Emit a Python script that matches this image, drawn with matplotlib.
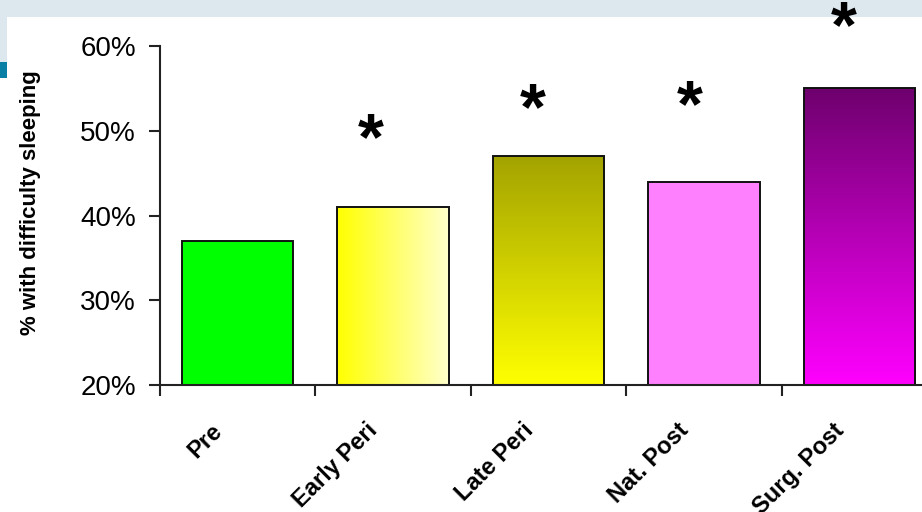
import numpy as np
import matplotlib
matplotlib.use("Agg")
import matplotlib.pyplot as plt
from matplotlib.colors import LinearSegmentedColormap
from matplotlib.patches import Rectangle
from matplotlib.transforms import ScaledTranslation, blended_transform_factory

categories = ["Pre", "Early Peri", "Late Peri", "Nat. Post", "Surg. Post"]
values = [37, 41, 47, 44, 55]
star_levels = [None, 48.7, 52.2, 52.6, 61.9]
yticks = [20, 30, 40, 50, 60]
ytick_labels = ["20%", "30%", "40%", "50%", "60%"]

plt.rcParams['font.family'] = ['Liberation Sans', 'DejaVu Sans']

W, H = 922, 512
fig = plt.figure(figsize=(W / 100, H / 100), dpi=100)
fig.patch.set_facecolor("white")

# decorative slide bands
band = "#dce8ee"
fig.patches.append(Rectangle((0, 1 - 17 / H), 1, 17 / H, transform=fig.transFigure,
                             facecolor=band, edgecolor="none", zorder=0))
fig.patches.append(Rectangle((0, 1 - 62 / H), 7 / W, 45 / H, transform=fig.transFigure,
                             facecolor=band, edgecolor="none", zorder=0))
fig.patches.append(Rectangle((0, 1 - 78 / H), 7 / W, 16 / H, transform=fig.transFigure,
                             facecolor="#0a7fa6", edgecolor="none", zorder=0))

left, right = 159.5 / W, 937.5 / W
bottom, top = (H - 385) / H, (H - 46) / H
ax = fig.add_axes([left, bottom, right - left, top - bottom])
ax.set_zorder(2)
ax.set_facecolor("none")
ax.set_xlim(-0.5, 4.5)
ax.set_ylim(20, 60)

bar_w = 0.715
fills = [
    ("solid", "#00ff00"),
    ("h", ["#ffff00", "#ffffcc"]),
    ("v", ["#a3a300", "#ffff00"]),
    ("solid", "#ff80ff"),
    ("v", ["#6e006e", "#ff00ff"]),
]
bars = ax.bar(range(len(values)), [v - 20 for v in values], bottom=20, width=bar_w,
              edgecolor="#111111", linewidth=1.4, zorder=3)
for b, (kind, col) in zip(bars, fills):
    if kind == "solid":
        b.set_facecolor(col)
    else:
        b.set_facecolor("none")
        x0 = b.get_x()
        x1 = x0 + b.get_width()
        y0 = b.get_y()
        y1 = y0 + b.get_height()
        cmap = LinearSegmentedColormap.from_list("g", col)
        if kind == "h":
            grad = np.linspace(0, 1, 256).reshape(1, -1)
        else:
            grad = np.linspace(1, 0, 256).reshape(-1, 1)
        im = ax.imshow(grad, cmap=cmap, extent=(x0, x1, y0, y1), aspect="auto",
                       origin="lower", zorder=2)
        im.set_clip_path(b)
ax.set_xlim(-0.5, 4.5)
ax.set_ylim(20, 60)

for s in ["top", "right"]:
    ax.spines[s].set_visible(False)
for s in ["left", "bottom"]:
    ax.spines[s].set_linewidth(1.5)
    ax.spines[s].set_color("#222222")
    ax.spines[s].set_zorder(4)

ax.set_yticks(yticks)
ax.set_yticklabels(ytick_labels)
ax.tick_params(axis="y", direction="out", length=8, width=1.5, color="#222222",
               labelsize=20, pad=9)
ax.set_xticks([i - 0.5 for i in range(len(categories))])
ax.set_xticklabels([])
ax.tick_params(axis="x", direction="out", length=8, width=1.5, color="#222222")

off = ScaledTranslation(-27 / 100, -34 / 100, fig.dpi_scale_trans)
trans = blended_transform_factory(ax.transData, ax.transAxes) + off
for i, c in enumerate(categories):
    ax.text(i, 0, c, transform=trans, rotation=45, rotation_mode="anchor",
            ha="right", va="top", fontsize=17, fontweight="bold", clip_on=False)

star_dx = [0, -0.14, -0.1, -0.09, -0.1]
for i, s in enumerate(star_levels):
    if s is not None:
        ax.text(i + star_dx[i], s, "*", ha="center", va="center", fontsize=48,
                fontweight="bold", clip_on=False, zorder=5)

fig.text(31 / W, 1 - 203 / H, "% with difficulty sleeping", rotation=90,
         ha="center", va="center", fontsize=16, fontweight="bold")

fig.savefig("out.png", dpi=100)
